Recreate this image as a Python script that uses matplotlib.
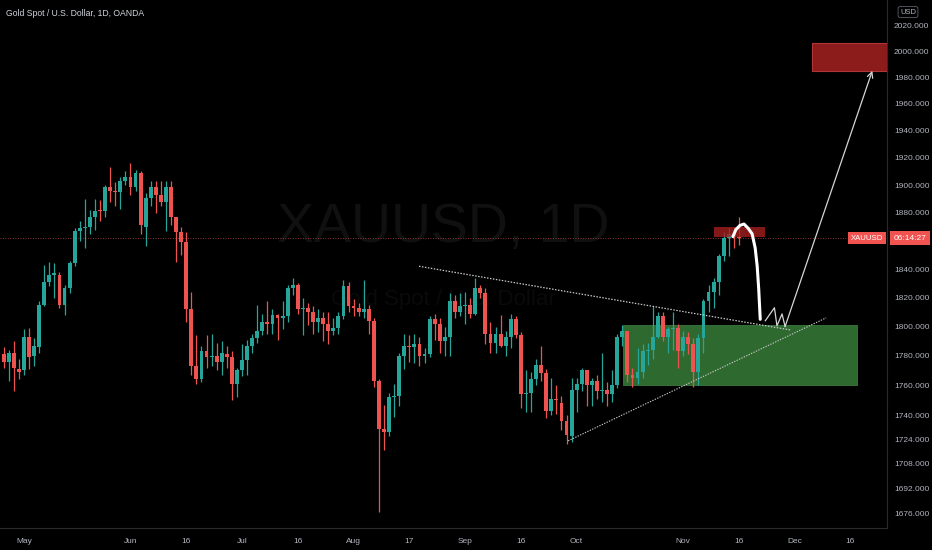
import numpy as np
import pandas as pd
import matplotlib
matplotlib.use('Agg')
import matplotlib.pyplot as plt
import matplotlib.transforms as mtransforms
from matplotlib.patches import Rectangle
from matplotlib.ticker import NullLocator, NullFormatter

plt.rcParams['font.family'] = ['Liberation Sans', 'DejaVu Sans']

# XAUUSD daily candles, 2021-04-27 .. 2021-11-16 (one row per month)
first_day = '2021-04-27'
last_day = '2021-11-16'

opens = [
    1781, 1776, 1782, 1771,
    1770, 1793, 1780, 1786, 1815, 1831, 1836, 1836, 1815, 1827, 1844, 1867, 1869, 1870, 1877, 1882, 1881, 1899, 1896, 1895, 1903,
    1906, 1899, 1909, 1870, 1891, 1899, 1893, 1888, 1899, 1877, 1866, 1859, 1812, 1773, 1764, 1783, 1779, 1780, 1776, 1781, 1779, 1761,
    1770, 1777, 1787, 1792, 1797, 1803, 1802, 1808, 1806, 1807, 1827, 1829, 1812, 1813, 1810, 1803, 1806, 1802, 1797, 1799, 1807, 1828,
    1814, 1813, 1810, 1812, 1804, 1763, 1731, 1729, 1752, 1753, 1780, 1787, 1786, 1788, 1780, 1781, 1805, 1802, 1790, 1793, 1818, 1810,
    1814, 1815, 1809, 1827, 1823, 1795, 1789, 1795, 1787, 1793, 1805, 1794, 1754, 1755, 1764, 1774, 1768, 1743, 1751, 1748, 1736, 1726,
    1757, 1761, 1770, 1760, 1763, 1756, 1757, 1754, 1760, 1793, 1797, 1767, 1765, 1769, 1783, 1784, 1793, 1807, 1793, 1798, 1799,
    1783, 1793, 1788, 1769, 1792, 1818, 1824, 1831, 1849, 1862, 1865, 1863,
]
highs = [
    1786, 1784, 1790, 1778,
    1798, 1799, 1792, 1818, 1843, 1845, 1844, 1838, 1829, 1846, 1869, 1874, 1890, 1882, 1890, 1889, 1900, 1913, 1902, 1906, 1910,
    1916, 1911, 1910, 1894, 1903, 1903, 1903, 1903, 1903, 1877, 1870, 1866, 1824, 1794, 1787, 1794, 1795, 1789, 1790, 1787, 1783, 1772,
    1788, 1791, 1795, 1815, 1809, 1818, 1812, 1809, 1818, 1829, 1834, 1830, 1820, 1816, 1814, 1812, 1810, 1810, 1806, 1810, 1832, 1831,
    1819, 1816, 1832, 1815, 1806, 1764, 1747, 1755, 1761, 1782, 1795, 1794, 1795, 1793, 1785, 1807, 1809, 1806, 1800, 1823, 1822, 1823,
    1824, 1820, 1834, 1829, 1827, 1803, 1800, 1808, 1797, 1809, 1807, 1796, 1770, 1769, 1778, 1787, 1771, 1765, 1760, 1753, 1740, 1765,
    1765, 1772, 1770, 1765, 1767, 1782, 1762, 1770, 1795, 1801, 1797, 1772, 1785, 1788, 1789, 1814, 1810, 1810, 1800, 1810, 1802,
    1797, 1796, 1792, 1795, 1819, 1829, 1834, 1851, 1866, 1869, 1870, 1877,
]
lows = [
    1772, 1763, 1756, 1764,
    1767, 1771, 1773, 1782, 1814, 1828, 1820, 1813, 1808, 1823, 1842, 1860, 1855, 1865, 1868, 1874, 1877, 1888, 1885, 1883, 1900,
    1893, 1896, 1865, 1856, 1885, 1880, 1885, 1867, 1871, 1845, 1850, 1803, 1767, 1761, 1762, 1772, 1773, 1770, 1767, 1772, 1750, 1752,
    1766, 1767, 1782, 1789, 1794, 1795, 1795, 1791, 1798, 1803, 1822, 1809, 1794, 1801, 1795, 1796, 1790, 1788, 1794, 1795, 1805, 1810,
    1807, 1807, 1806, 1795, 1759, 1677, 1717, 1726, 1739, 1746, 1771, 1776, 1775, 1773, 1775, 1779, 1791, 1782, 1780, 1780, 1806, 1807,
    1802, 1806, 1808, 1820, 1788, 1782, 1782, 1786, 1780, 1785, 1792, 1745, 1742, 1742, 1760, 1763, 1738, 1740, 1741, 1730, 1721, 1722,
    1742, 1756, 1746, 1746, 1751, 1749, 1746, 1749, 1758, 1787, 1762, 1759, 1761, 1765, 1774, 1778, 1792, 1790, 1782, 1784, 1772,
    1780, 1781, 1759, 1760, 1782, 1810, 1813, 1822, 1846, 1849, 1855, 1857,
]
closes = [
    1776, 1782, 1772, 1769,
    1793, 1779, 1787, 1815, 1831, 1836, 1837, 1815, 1827, 1844, 1867, 1869, 1870, 1877, 1881, 1881, 1899, 1896, 1895, 1903, 1906,
    1899, 1909, 1871, 1891, 1899, 1893, 1888, 1899, 1877, 1866, 1859, 1812, 1773, 1764, 1783, 1779, 1780, 1776, 1782, 1779, 1761, 1770,
    1777, 1787, 1792, 1797, 1803, 1802, 1808, 1806, 1807, 1827, 1829, 1812, 1813, 1810, 1803, 1806, 1802, 1797, 1799, 1807, 1828, 1814,
    1813, 1810, 1812, 1804, 1763, 1731, 1729, 1752, 1753, 1780, 1787, 1786, 1788, 1780, 1781, 1805, 1802, 1790, 1793, 1818, 1810, 1814,
    1815, 1809, 1827, 1823, 1795, 1789, 1795, 1787, 1793, 1805, 1794, 1754, 1755, 1764, 1774, 1768, 1743, 1751, 1750, 1736, 1727, 1757,
    1761, 1770, 1760, 1763, 1756, 1757, 1754, 1760, 1793, 1797, 1767, 1765, 1769, 1783, 1784, 1793, 1807, 1793, 1798, 1799, 1783,
    1793, 1788, 1769, 1792, 1818, 1824, 1831, 1849, 1862, 1865, 1863, 1862,
]

price_ticks = [2020, 2000, 1980, 1960, 1940, 1920, 1900, 1880, 1840, 1820, 1800,
               1780, 1760, 1740, 1724, 1708, 1692, 1676]
date_ticks = ['2021-05-03', '2021-06-01', '2021-06-16', '2021-07-01', '2021-07-16',
              '2021-08-02', '2021-08-17', '2021-09-01', '2021-09-16', '2021-10-01',
              '2021-11-01', '2021-11-16', '2021-12-01', '2021-12-16']
date_labels = ['May', 'Jun', '16', 'Jul', '16', 'Aug', '17', 'Sep', '16', 'Oct',
               'Nov', '16', 'Dec', '16']

# drawings on the chart, as (bar index, price)
desc_line_x = [81.9, 155.1]
desc_line_y = [1842, 1797.7]
asc_line_x = [111.3, 162.2]
asc_line_y = [1723, 1806]
arc_x = [143.8, 144.4, 145.2, 146.0, 146.8, 147.6, 148.2, 148.6, 148.9, 149.2]
arc_y = [1863, 1868, 1871, 1872, 1869, 1865, 1855, 1842, 1826, 1805]
zig_x = [150.2, 152.0, 152.5, 153.5, 154.1]
zig_y = [1804, 1813, 1800.5, 1808.7, 1800]
arrow_end = (171.3, 1985)
demand_zone = (122.1, 168.3, 1760, 1801)
target_zone = (159.4, 185, 1985, 2006)
top_zone = (140.1, 150.2, 1863, 1870)

# ---------------------------------------------------------------------------
o = np.array(opens, dtype=float)
h = np.array(highs, dtype=float)
l = np.array(lows, dtype=float)
c = np.array(closes, dtype=float)

days = pd.bdate_range(first_day, last_day)
all_days = pd.bdate_range(first_day, '2021-12-31')
xs = np.arange(len(days))
tick_pos = [all_days.get_loc(pd.Timestamp(d)) for d in date_ticks]

UP = '#26a69a'
DOWN = '#ef5350'
TXT = '#b2b5be'

fig = plt.figure(figsize=(9.32, 5.5), dpi=100, facecolor='black')
ax = fig.add_axes([0, 22 / 550, 887 / 932, 528 / 550])
ax.set_facecolor('black')

# watermark
ax.text(0.4995, 0.568, 'XAUUSD, 1D', transform=ax.transAxes, ha='center', va='center',
        fontsize=40, color='#101010', zorder=0)
ax.text(0.5, 0.432, 'Gold Spot / U.S. Dollar', transform=ax.transAxes, ha='center',
        va='center', fontsize=16, color='#0a0a0a', zorder=0)

# zones
x0, x1, y0, y1 = demand_zone
ax.add_patch(Rectangle((x0, y0), x1 - x0, y1 - y0, facecolor='#2e6930', edgecolor='#3a7a3c',
                       lw=0.6, zorder=1))

# candles
colors = np.where(c >= o, UP, DOWN)
ax.vlines(xs, l, h, colors=colors, lw=0.9, zorder=3)
body_bottom = np.minimum(o, c)
body_h = np.maximum(np.abs(c - o), 0.6)
ax.bar(xs, body_h, bottom=body_bottom, width=0.76, color=colors, linewidth=0, zorder=4)

# last price line
ax.axhline(c[-1], color=DOWN, lw=0.6, ls=(0, (1, 2)), alpha=0.8, zorder=2)

x0, x1, y0, y1 = top_zone
ax.add_patch(Rectangle((x0, y0), x1 - x0, y1 - y0, facecolor='#a51f1f', edgecolor='none',
                       alpha=0.8, zorder=6))
x0, x1, y0, y1 = target_zone
ax.add_patch(Rectangle((x0, y0), x1 - x0, y1 - y0, facecolor='#8c1c1c', edgecolor='#b03535',
                       lw=0.8, zorder=6))

# trend lines
ax.plot(desc_line_x, desc_line_y, color='#c8c8c8', lw=0.9, ls=(0, (1.2, 1.2)), zorder=6)
ax.plot(asc_line_x, asc_line_y, color='#c8c8c8', lw=0.8, ls=(0, (1.2, 1.2)), zorder=6)

# projected path
ax.plot(arc_x, arc_y, color='white', lw=2.2, solid_capstyle='round', zorder=7)
ax.plot(zig_x, zig_y, color='#d6d6d6', lw=0.9, zorder=7)
ax.annotate('', xy=arrow_end, xytext=(zig_x[-1], zig_y[-1]),
            arrowprops=dict(arrowstyle='->', color='#d6d6d6', lw=0.9,
                            shrinkA=0, shrinkB=0), zorder=7)

# axes
ax.set_yscale('log')
ax.set_ylim(1666.5, 2039.5)
ax.set_xlim(-0.73, 174.2)
ax.yaxis.tick_right()
ax.set_yticks(price_ticks)
ax.set_yticklabels([f'{t:.3f}' for t in price_ticks])
ax.yaxis.set_minor_locator(NullLocator())
ax.yaxis.set_minor_formatter(NullFormatter())
ax.set_xticks(tick_pos)
ax.set_xticklabels(date_labels)
ax.tick_params(axis='y', length=0, pad=5, labelsize=6, labelcolor=TXT)
ax.tick_params(axis='x', length=0, pad=7, labelsize=6, labelcolor=TXT)
for side in ['top', 'left']:
    ax.spines[side].set_visible(False)
for side in ['right', 'bottom']:
    ax.spines[side].set_color('#2a2a2a')
    ax.spines[side].set_linewidth(0.8)

# price labels
trans = mtransforms.blended_transform_factory(ax.transAxes, ax.transData)
ax.text(0.9958, c[-1], 'XAUUSD', transform=trans, ha='right', va='center', color='white',
        fontsize=5.6, zorder=10, bbox=dict(boxstyle='square,pad=0.35', fc='#f05350', ec='none'))
ax.text(1.0075, c[-1], '06:14:27', transform=trans, ha='left', va='center', color='white',
        fontsize=6, zorder=10, clip_on=False,
        bbox=dict(boxstyle='square,pad=0.45', fc='#f05350', ec='none'))

fig.text(908 / 932, 1 - 12 / 550, 'USD', ha='center', va='center', fontsize=5.5, color=TXT,
         bbox=dict(boxstyle='round,pad=0.25', fc='none', ec='#5d606b', lw=0.6))
fig.text(6 / 932, 1 - 13 / 550, 'Gold Spot / U.S. Dollar, 1D, OANDA', ha='left', va='center',
         fontsize=6.2, color='#d1d4dc')

fig.savefig('out.png', dpi=100, facecolor='black')
